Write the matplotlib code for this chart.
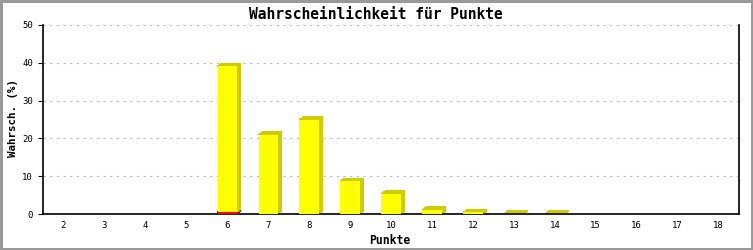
import matplotlib
matplotlib.use("Agg")
import matplotlib.pyplot as plt
from matplotlib.patches import Polygon, Rectangle
import numpy as np

categories = [str(i) for i in range(2, 19)]
red_values = [0, 0, 0, 0, 0.5, 0, 0, 0, 0, 0, 0, 0, 0, 0, 0, 0, 0]
yellow_values = [0, 0, 0, 0, 38.6, 20.9, 24.9, 8.7, 5.3, 1.1, 0.4, 0.05, 0.05, 0, 0, 0, 0]
y_ticks = [0, 10, 20, 30, 40, 50]

W, H = 753, 250
fig = plt.figure(figsize=(W / 100, H / 100), dpi=100)
fig.patch.set_facecolor("white")
fig.add_artist(Rectangle((0, 0), 1, 1, transform=fig.transFigure, fill=False,
                         edgecolor="#999999", linewidth=2.2, antialiased=False))

ax = fig.add_axes([43 / W, (H - 214) / H, 696 / W, 189 / H])
ax.set_xlim(-0.5, len(categories) - 0.5)
ax.set_ylim(0, 50)
ax.set_facecolor("white")

mono = "DejaVu Sans Mono"
ax.set_yticks(y_ticks)
ax.set_yticklabels([str(t) for t in y_ticks], fontsize=6.5, family=mono)
ax.set_xticks(range(len(categories)))
ax.set_xticklabels(categories, fontsize=6.5, family=mono)
ax.tick_params(axis="y", direction="out", length=3.6, width=0.8, pad=3.6)
ax.tick_params(axis="x", length=0, pad=5)
ax.spines["top"].set_visible(False)
for s in ("left", "bottom", "right"):
    ax.spines[s].set_linewidth(1.2)
    ax.spines[s].set_color("black")

for t in y_ticks[1:]:
    ax.axhline(t, color="#bbbbbb", linewidth=0.8, linestyle=(0, (2, 4)), zorder=0)

fig.text(376 / W, 1 - 14.5 / H, "Wahrscheinlichkeit für Punkte", fontsize=10.5,
         family=mono, fontweight="bold", ha="center", va="center")
fig.text(390 / W, 1 - 240 / H, "Punkte", fontsize=8.3, family=mono,
         fontweight="bold", ha="center", va="center")
fig.text(12.5 / W, 1 - 118 / H, "Wahrsch. (%)", fontsize=7.8, family=mono,
         fontweight="bold", ha="center", va="center", rotation=90)

bar_w = 0.47
dx, dy = 4, 3  # depth in pixels


def bar3d(i, bottom, height, front, side):
    if height <= 0:
        return
    x0, x1 = i - bar_w / 2, i + bar_w / 2
    top = bottom + height
    (px0, pb), (px1, pt) = ax.transData.transform([(x0, bottom), (x1, top)])
    hexa = [(px0, pt), (px0 + dx, pt + dy), (px1 + dx, pt + dy),
            (px1 + dx, pb + dy), (px1, pb), (px1, pt)]
    ax.add_patch(Polygon(hexa, closed=True, transform=None, facecolor=side,
                         edgecolor="none", antialiased=False, zorder=2))
    ax.add_patch(Rectangle((x0, bottom), bar_w, height, facecolor=front,
                           edgecolor="none", antialiased=False, zorder=3))


for i in range(len(categories)):
    bar3d(i, 0, red_values[i], "#ff0000", "#cc0000")
    bar3d(i, red_values[i], yellow_values[i], "#ffff00", "#cccc00")

fig.savefig("out.png", dpi=100, facecolor="white")
